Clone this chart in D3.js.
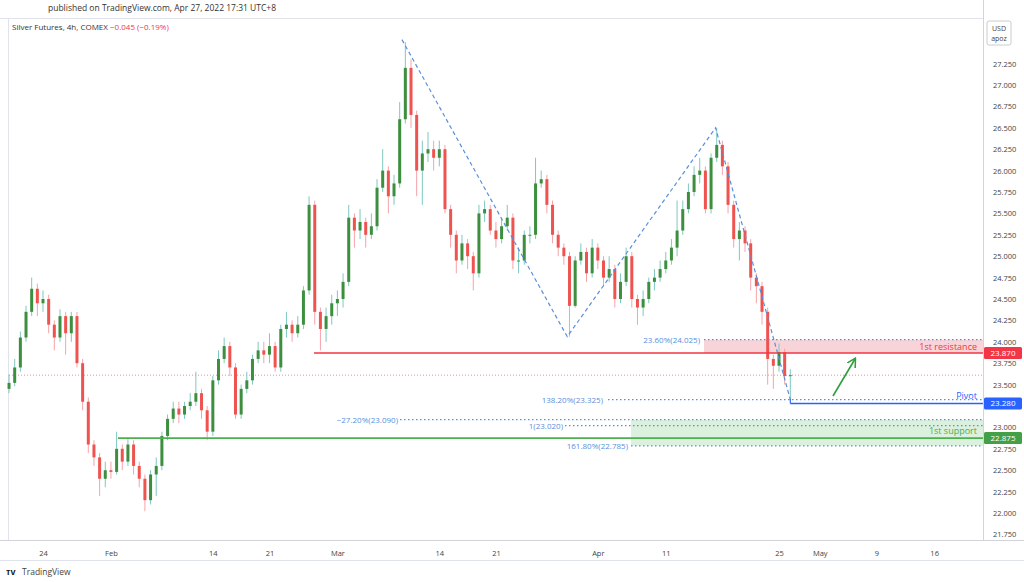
<!DOCTYPE html>
<html><head><meta charset="utf-8">
<script src="https://cdn.jsdelivr.net/npm/d3@7"></script>
<style>body{margin:0;background:#fff;font-family:"Open Sans",sans-serif}</style>
</head><body><svg></svg>
<script>
var width = 1024, height = 582;

// half-day candles starting Jan 19
var opens  = [23.45,23.52,23.7,24.05,24.35,24.62,24.45,24.5,24.2,24.05,24.3,24.1,24.3,23.75,23.3,22.8,22.65,22.4,22.5,22.48,22.75,22.6,22.8,22.55,22.4,22.15,22.45,22.55,22.9,23.1,23.22,23.15,23.25,23.3,23.4,23.2,22.95,23.55,23.8,23.95,23.7,23.15,23.45,23.55,23.8,23.9,23.85,23.95,23.7,24.15,24.2,24.1,24.2,24.6,25.6,24.35,24.15,24.3,24.45,24.5,24.7,25.45,25.3,25.4,25.25,25.35,25.8,26.0,25.7,25.85,26.6,27.2,26.65,26.0,26.2,26.25,26.15,26.25,25.55,25.25,24.95,25.15,25.0,24.8,25.5,25.55,25.3,25.2,25.35,25.45,24.95,24.95,25.25,25.25,25.85,25.9,25.6,25.25,25.1,25.0,24.42,24.95,25.05,24.8,25.1,24.95,24.75,24.85,24.5,24.7,25.0,24.5,24.4,24.5,24.7,24.75,24.85,24.95,25.1,25.3,25.55,25.75,25.95,26.0,25.55,26.15,26.3,26.05,25.6,25.2,25.3,25.15,24.75,24.65,24.35,23.8,23.72,23.88,23.6];
var closes = [23.52,23.7,24.05,24.35,24.62,24.45,24.5,24.2,24.05,24.3,24.1,24.3,23.75,23.3,22.8,22.65,22.4,22.5,22.48,22.75,22.6,22.8,22.55,22.4,22.15,22.45,22.55,22.9,23.1,23.22,23.15,23.25,23.3,23.4,23.2,22.95,23.55,23.8,23.95,23.7,23.15,23.45,23.55,23.8,23.9,23.85,23.95,23.7,24.15,24.2,24.1,24.2,24.6,25.6,24.35,24.15,24.3,24.45,24.5,24.7,25.45,25.3,25.4,25.25,25.35,25.8,26.0,25.7,25.85,26.6,27.2,26.65,26.0,26.2,26.25,26.15,26.25,25.55,25.25,24.95,25.15,25.0,24.8,25.5,25.55,25.3,25.2,25.35,25.45,24.95,24.95,25.25,25.25,25.85,25.9,25.6,25.25,25.1,25.0,24.42,24.95,25.05,24.8,25.1,24.95,24.75,24.85,24.5,24.7,25.0,24.5,24.4,24.5,24.7,24.75,24.85,24.95,25.1,25.3,25.55,25.75,25.95,26.0,25.55,26.15,26.3,26.05,25.6,25.2,25.3,25.15,24.75,24.65,24.35,23.8,23.72,23.88,23.6,23.61];
var highs  = [23.62,23.8,24.12,24.42,24.75,24.68,24.6,24.55,24.25,24.38,24.35,24.35,24.35,23.8,23.35,22.85,22.7,22.6,22.6,22.95,22.8,22.88,22.85,22.6,22.45,22.5,22.65,22.95,23.15,23.3,23.3,23.3,23.4,23.65,23.45,23.25,23.6,23.9,24.05,24.0,23.75,23.5,23.65,23.85,24.0,24.0,24.1,24.0,24.2,24.35,24.25,24.3,24.65,25.7,25.65,24.4,24.4,24.55,24.6,24.8,25.6,25.5,25.55,25.45,25.5,25.9,26.25,26.05,25.95,26.8,27.5,27.3,26.7,26.35,26.45,26.35,26.35,26.3,25.6,25.3,25.25,25.2,25.05,25.6,25.65,25.6,25.4,25.45,25.6,25.5,25.1,25.3,25.35,26.15,26.0,25.95,25.65,25.3,25.15,25.05,25.0,25.15,25.1,25.2,25.15,25.0,25.0,24.9,24.8,25.1,25.05,24.55,24.6,24.75,24.85,24.95,25.05,25.2,25.65,25.65,25.85,26.05,26.15,26.05,26.2,26.5,26.35,26.1,25.65,25.4,25.35,25.2,24.8,24.7,24.4,23.85,23.98,23.92,23.68];
var lows   = [23.4,23.48,23.65,24.0,24.3,24.3,24.35,24.1,23.9,24.0,23.85,24.0,23.7,23.2,22.7,22.55,22.2,22.3,22.4,22.45,22.5,22.55,22.45,22.3,22.02,22.1,22.2,22.5,22.85,23.05,23.05,23.1,23.2,23.25,23.1,22.85,22.9,23.5,23.75,23.6,23.1,23.1,23.4,23.5,23.75,23.75,23.75,23.65,23.65,24.05,24.0,24.05,24.15,24.55,24.2,23.9,24.0,24.2,24.3,24.4,24.65,25.1,25.2,25.1,25.2,25.3,25.75,25.5,25.6,25.8,26.55,26.5,25.7,25.6,26.1,26.0,26.05,25.5,25.1,24.8,24.9,24.85,24.6,24.75,25.4,25.25,25.1,25.15,25.3,24.85,24.8,24.9,25.15,25.2,25.8,25.5,25.15,25.0,24.9,24.06,24.4,24.9,24.7,24.75,24.85,24.65,24.7,24.4,24.45,24.65,24.4,24.2,24.3,24.45,24.6,24.7,24.8,24.9,25.0,25.25,25.5,25.7,25.85,25.5,25.5,26.1,25.95,25.5,25.1,24.95,25.05,24.6,24.45,24.2,23.5,23.45,23.65,23.5,23.28];

var priceTicks = [21.75,22,22.25,22.5,22.75,23,23.5,23.75,24,24.25,24.5,24.75,25,25.25,25.5,25.75,26,26.25,26.5,26.75,27,27.25];
var dateLabels = ["24","Feb","14","21","Mar","14","21","Apr","11","25","May","9","16"];
var dateDays   = [0,6,15,20,26,35,40,49,55,65,68.6,73.6,78.7];
var lastPrice = 23.61;
var zigzag = [{d:31.7,p:27.53},{d:46.3,p:24.06},{d:59.4,p:26.5},{d:66,p:23.325}];

var plotR = 983, plotB = 540;
var x = d3.scaleLinear().domain([0,65]).range([43,779]);
var y = d3.scaleLinear().domain([22,27]).range([513,85]);

var svg = d3.select('svg').attr("width", width).attr("height", height);

svg.append("text").attr("x",48).attr("y",11).attr("font-size",8.5).attr("fill","#333")
  .text("published on TradingView.com, Apr 27, 2022 17:31 UTC+8");
svg.append("line").attr("x1",0).attr("x2",plotR).attr("y1",18.5).attr("y2",18.5).attr("stroke","#e0e3eb");
svg.append("line").attr("x1",8.5).attr("x2",8.5).attr("y1",18).attr("y2",plotB).attr("stroke","#e0e3eb");
var t = svg.append("text").attr("x",12).attr("y",30).attr("font-size",8).attr("fill","#333");
t.append("tspan").text("Silver Futures, 4h, COMEX  ");
t.append("tspan").attr("fill","#f23645").text("\u22120.045 (\u22120.19%)");

// zones
svg.append("rect").attr("x",704).attr("width",plotR-704).attr("y",y(24.025)).attr("height",y(23.87)-y(24.025)).attr("fill","#f7cdd2").attr("opacity",0.85);
svg.append("rect").attr("x",631).attr("width",plotR-631).attr("y",y(23.09)).attr("height",y(22.785)-y(23.09)).attr("fill","#d7eed9").attr("opacity",0.9);

// current price line
svg.append("line").attr("x1",9).attr("x2",plotR).attr("y1",y(lastPrice)).attr("y2",y(lastPrice))
  .attr("stroke","#f28b95").attr("stroke-dasharray","1,2");

// candles
var idx = d3.range(closes.length);
var cx = function(i){ return x(i/2 - 3); };
var g = svg.append("g");
g.selectAll(".wick").data(idx).enter().append("line")
  .attr("x1",function(i){return cx(i);}).attr("x2",function(i){return cx(i);})
  .attr("y1",function(i){return y(highs[i]);}).attr("y2",function(i){return y(lows[i]);})
  .attr("stroke",function(i){return closes[i]>=opens[i]?"#7fc8bf":"#f5a3aa";});
g.selectAll(".body").data(idx).enter().append("rect")
  .attr("x",function(i){return cx(i)-1.5;}).attr("width",3)
  .attr("y",function(i){return y(Math.max(opens[i],closes[i]));})
  .attr("height",function(i){return Math.max(1,Math.abs(y(opens[i])-y(closes[i])));})
  .attr("fill",function(i){return closes[i]>=opens[i]?"#3d8f3f":"#ef5350";});

// fib dotted levels
var blue = "#5a8fdc";
var fibs = [{p:24.025,x0:704,lab:"23.60%(24.025)",lx:700},{p:23.325,x0:608,lab:"138.20%(23.325)",lx:603},
            {p:23.09,x0:400,lab:"\u221227.20%(23.090)",lx:398},{p:23.02,x0:565,lab:"1(23.020)",lx:563},
            {p:22.785,x0:631,lab:"161.80%(22.785)",lx:628}];
fibs.forEach(function(f){
  svg.append("line").attr("x1",f.x0).attr("x2",plotR).attr("y1",y(f.p)).attr("y2",y(f.p))
    .attr("stroke",blue).attr("stroke-dasharray","1.5,2.5").attr("stroke-width",1.2);
  svg.append("text").attr("x",f.lx).attr("y",y(f.p)+3).attr("text-anchor","end").attr("font-size",8).attr("fill",blue).text(f.lab);
});

// zigzag
svg.append("path").attr("d",d3.line().x(function(d){return x(d.d);}).y(function(d){return y(d.p);})(zigzag))
  .attr("fill","none").attr("stroke",blue).attr("stroke-width",1.2).attr("stroke-dasharray","4,3");

// levels
function level(p,x0,col,w){ svg.append("line").attr("x1",x0).attr("x2",plotR).attr("y1",y(p)).attr("y2",y(p)).attr("stroke",col).attr("stroke-width",w); }
level(23.87,314,"#f23645",1.6);
level(23.28,x(66),"#2962ff",1.4);
svg.append("line").attr("x1",x(66)).attr("x2",x(66)).attr("y1",y(23.33)).attr("y2",y(23.28)).attr("stroke","#2962ff");
level(22.875,118,"#4caf50",1.6);
svg.append("text").attr("x",977).attr("y",y(23.87)-3).attr("text-anchor","end").attr("font-size",9).attr("fill","#f23645").text("1st resistance");
svg.append("text").attr("x",977).attr("y",y(23.28)-4).attr("text-anchor","end").attr("font-size",9).attr("fill","#2962ff").text("Pivot");
svg.append("text").attr("x",977).attr("y",y(22.875)-4).attr("text-anchor","end").attr("font-size",9).attr("fill","#4caf50").text("1st support");

// arrow
svg.append("defs").append("marker").attr("id","ah").attr("viewBox","0 0 10 10").attr("refX",8).attr("refY",5)
  .attr("markerWidth",6).attr("markerHeight",6).attr("orient","auto")
  .append("path").attr("d","M0,0L9,5L0,10").attr("fill","none").attr("stroke","#2e9e3e").attr("stroke-width",1.6);
svg.append("line").attr("x1",833).attr("y1",396).attr("x2",855).attr("y2",359).attr("stroke","#2e9e3e").attr("stroke-width",1.6).attr("marker-end","url(#ah)");

// right axis
svg.append("line").attr("x1",plotR+0.5).attr("x2",plotR+0.5).attr("y1",0).attr("y2",plotB).attr("stroke","#d1d4dc");
svg.append("rect").attr("x",plotR+1).attr("y",0).attr("width",width-plotR).attr("height",height).attr("fill","#fff");
var yAxis = svg.append("g").attr("transform","translate("+plotR+",0)")
  .call(d3.axisRight(y).tickValues(priceTicks).tickSize(0).tickFormat(d3.format(".3f")));
yAxis.select(".domain").remove();
yAxis.selectAll("text").attr("font-size",7.5).attr("fill","#444").attr("x",10).attr("font-family","Open Sans");
svg.append("rect").attr("x",plotR+4).attr("y",21).attr("width",24).attr("height",24).attr("fill","#fff").attr("stroke","#ccc").attr("rx",2);
svg.append("text").attr("x",plotR+16).attr("y",31).attr("text-anchor","middle").attr("font-size",7).attr("fill","#444").text("USD");
svg.append("text").attr("x",plotR+16).attr("y",41).attr("text-anchor","middle").attr("font-size",7).attr("fill","#444").text("apoz");
[{p:23.87,c:"#f23645"},{p:23.28,c:"#2962ff"},{p:22.875,c:"#43a047"}].forEach(function(b){
  svg.append("rect").attr("x",plotR+1).attr("y",y(b.p)-6).attr("width",38).attr("height",12).attr("fill",b.c).attr("rx",1.5);
  svg.append("text").attr("x",plotR+20).attr("y",y(b.p)+3).attr("text-anchor","middle").attr("font-size",8).attr("fill","#fff").text(b.p.toFixed(3));
});

// bottom axis
svg.append("line").attr("x1",0).attr("x2",width).attr("y1",plotB+0.5).attr("y2",plotB+0.5).attr("stroke","#d1d4dc");
svg.append("line").attr("x1",0).attr("x2",width).attr("y1",560.5).attr("y2",560.5).attr("stroke","#e0e3eb");
var xAxis = svg.append("g").attr("transform","translate(0,"+(plotB+13)+")")
  .call(d3.axisBottom(x).tickValues(dateDays).tickSize(0).tickFormat(function(d,i){return dateLabels[i];}));
xAxis.select(".domain").remove();
xAxis.selectAll("text").attr("font-size",7.5).attr("fill","#444").attr("dy",0).attr("font-family","Open Sans");

svg.append("text").attr("x",6).attr("y",575).attr("font-size",9).attr("font-weight","bold").attr("fill","#131722").text("\u1d1b\u1d20");
svg.append("text").attr("x",22).attr("y",575).attr("font-size",8.5).attr("fill","#444").text("TradingView");
</script></body></html>
